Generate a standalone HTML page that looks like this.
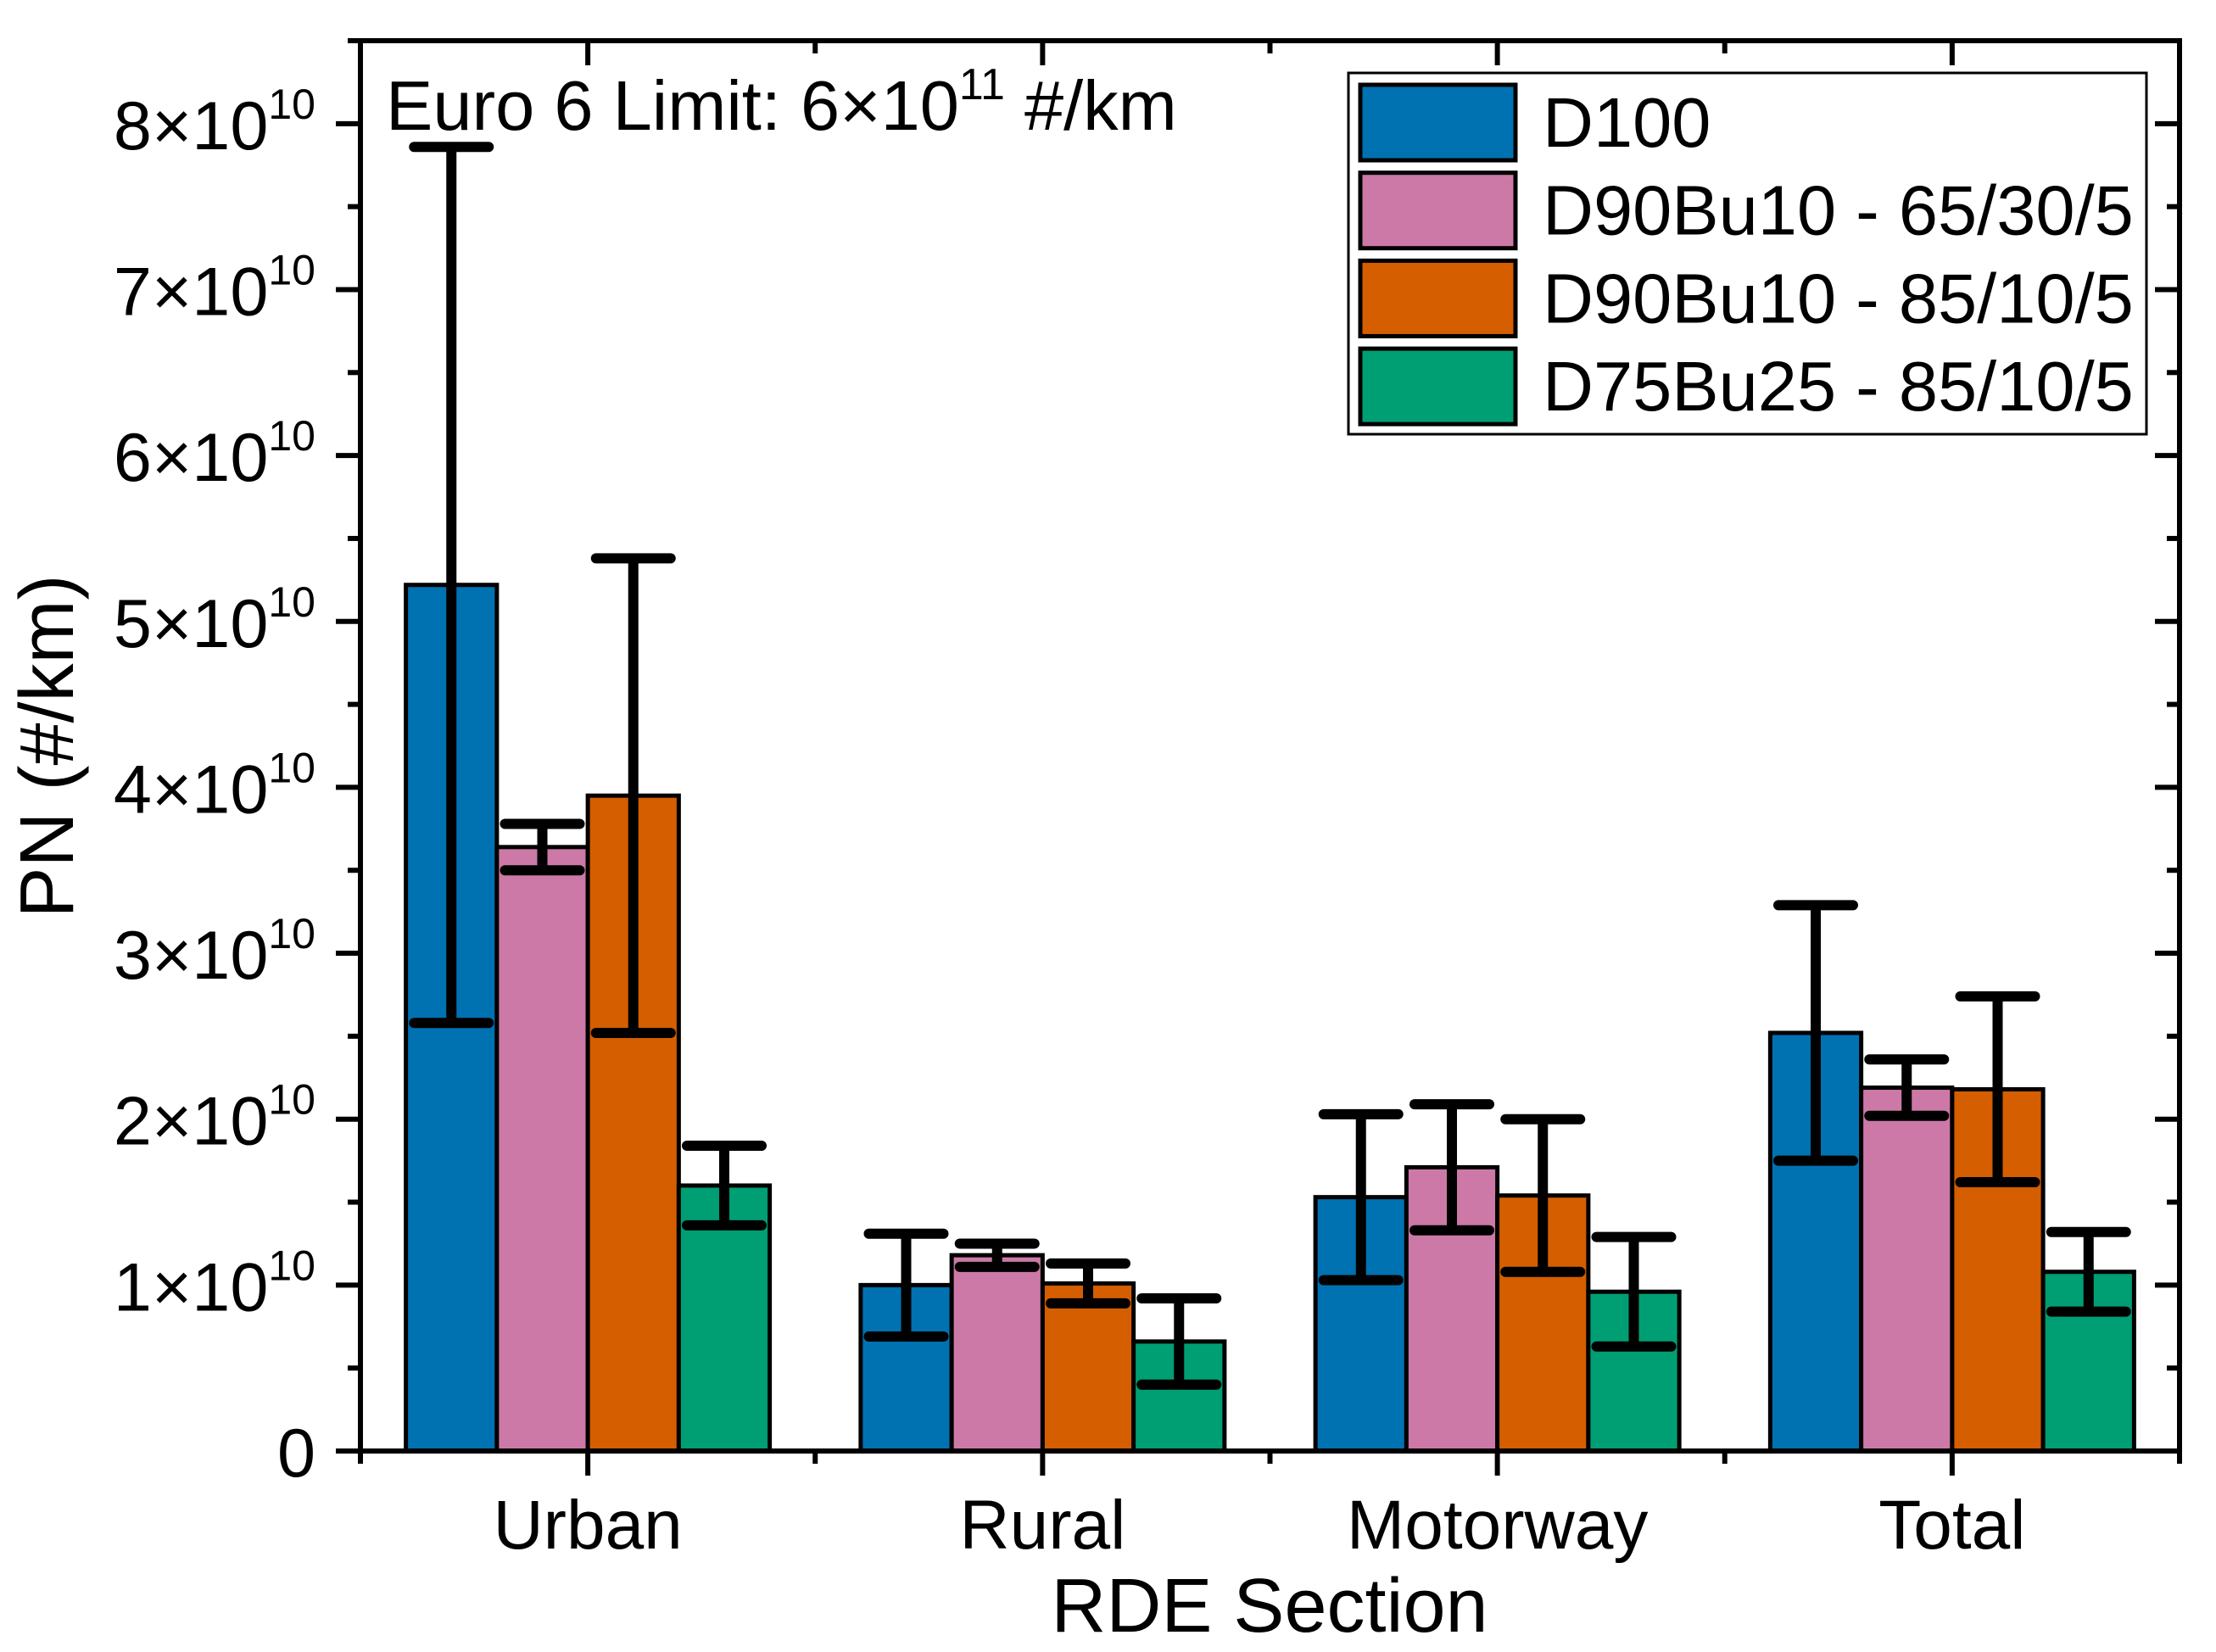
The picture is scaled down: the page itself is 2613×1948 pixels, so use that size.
<!DOCTYPE html>
<html><head><meta charset="utf-8"><style>
html,body{margin:0;padding:0;background:#fff;}
svg{display:block;font-family:"Liberation Sans",Arial,sans-serif;}
</style></head><body>
<svg id="chart" width="2613" height="1948" viewBox="0 0 2613 1948" xmlns="http://www.w3.org/2000/svg">
<g id="bars"></g>
<g id="errs"></g>
<g id="axes"></g>
<g id="yticks"></g>
<text x="455" y="153" font-size="83">Euro 6 Limit: 6×10<tspan font-size="52" dy="-36">11</tspan><tspan dy="36"> #/km</tspan></text>
<g id="legend"></g>
<text x="1497" y="1924" font-size="90" text-anchor="middle">RDE Section</text>
<text transform="translate(86,880) rotate(-90)" font-size="90" text-anchor="middle">PN (#/km)</text>
</svg>
<script>
const categories = ["Urban","Rural","Motorway","Total"];
const seriesNames = ["D100","D90Bu10 - 65/30/5","D90Bu10 - 85/10/5","D75Bu25 - 85/10/5"];
const seriesColors = ["#0072B2","#CC79A7","#D55E00","#009E73"];
const d100 = [5.22,1.00,1.53,2.52];
const d100Err = [2.64,0.31,0.50,0.77];
const d90a = [3.64,1.18,1.71,2.19];
const d90aErr = [0.14,0.07,0.38,0.17];
const d90b = [3.95,1.01,1.54,2.18];
const d90bErr = [1.43,0.12,0.46,0.56];
const d75 = [1.60,0.66,0.96,1.08];
const d75Err = [0.24,0.26,0.33,0.24];
const yTicks = [0,1,2,3,4,5,6,7,8];
const yMax = 8.5;

const values=[d100,d90a,d90b,d75], errs=[d100Err,d90aErr,d90bErr,d75Err];
const NS="http://www.w3.org/2000/svg";
const L=425,R=2570,T=48,B=1711;
const catW=(R-L)/categories.length, barW=catW*0.2;
function xc(i){return L+catW*(i+0.5);}
function y(v){return B-(B-T)*v/yMax;}
function mk(tag,attrs,parent){const e=document.createElementNS(NS,tag);for(const k in attrs)e.setAttribute(k,attrs[k]);parent.appendChild(e);return e;}
const gB=document.getElementById('bars'),gE=document.getElementById('errs'),gA=document.getElementById('axes'),gY=document.getElementById('yticks'),gL=document.getElementById('legend');
values.forEach((arr,s)=>{arr.forEach((v,i)=>{
  const x0=xc(i)-2*barW+s*barW;
  const r=mk('rect',{x:x0,y:y(v),width:barW,height:B-y(v),fill:seriesColors[s],stroke:'#000','stroke-width':5},gB);
  
  
  const cx=x0+barW/2, e=errs[s][i];
  const g=mk('g',{stroke:'#000','stroke-width':12,'stroke-linecap':'round'},gE);
  
  
  mk('line',{x1:cx,x2:cx,y1:y(v+e),y2:y(v-e),'stroke-linecap':'butt'},g);
  mk('line',{x1:cx-44,x2:cx+44,y1:y(v+e),y2:y(v+e)},g);
  mk('line',{x1:cx-44,x2:cx+44,y1:y(v-e),y2:y(v-e)},g);
});});
// axes frame
const fr=mk('rect',{x:L,y:T,width:R-L,height:B-T,fill:'none',stroke:'#000','stroke-width':6},gA);


// y ticks
for(let k=0;k<=yMax*2;k++){
  const v=k/2, yy=y(v), maj=(k%2===0), len=maj?29:15;
  mk('line',{x1:L-len,x2:L,y1:yy,y2:yy,stroke:'#000','stroke-width':6},gA);
  mk('line',{x1:R-len,x2:R,y1:yy,y2:yy,stroke:'#000','stroke-width':6},gA);
}
yTicks.forEach(t=>{
  const tx=mk('text',{x:372,y:y(t)+30,'font-size':81,'text-anchor':'end'},gY);
  
  
  if(t===0){tx.textContent='0';}
  else{tx.textContent=t+'×10';const sp=document.createElementNS(NS,'tspan');sp.setAttribute('font-size','50');sp.setAttribute('dy','-36');sp.textContent='10';tx.appendChild(sp);}
});
// x ticks
for(let k=0;k<=categories.length*2;k++){
  const xx=L+catW*k/2, maj=(k%2===1), len=maj?29:15;
  mk('line',{x1:xx,x2:xx,y1:B,y2:B+len,stroke:'#000','stroke-width':6},gA);
  mk('line',{x1:xx,x2:xx,y1:T,y2:T+len,stroke:'#000','stroke-width':6},gA);
}
categories.forEach((c,i)=>{
  const tx=mk('text',{x:xc(i),y:1826,'font-size':82,'text-anchor':'middle'},gA);
  
  
  tx.textContent=c;
});
// legend
const lb=mk('rect',{x:1590,y:86,width:941,height:426,fill:'#fff',stroke:'#000','stroke-width':3},gL);


seriesNames.forEach((n,s)=>{
  const top=98+s*103.7;
  const sw=mk('rect',{x:1604,y:top+2,width:183,height:89,fill:seriesColors[s],stroke:'#000','stroke-width':5},gL);
  
  
  const tx=mk('text',{x:1819,y:top+75,'font-size':83},gL);
  
  
  tx.textContent=n;
});
</script>
</body></html>
